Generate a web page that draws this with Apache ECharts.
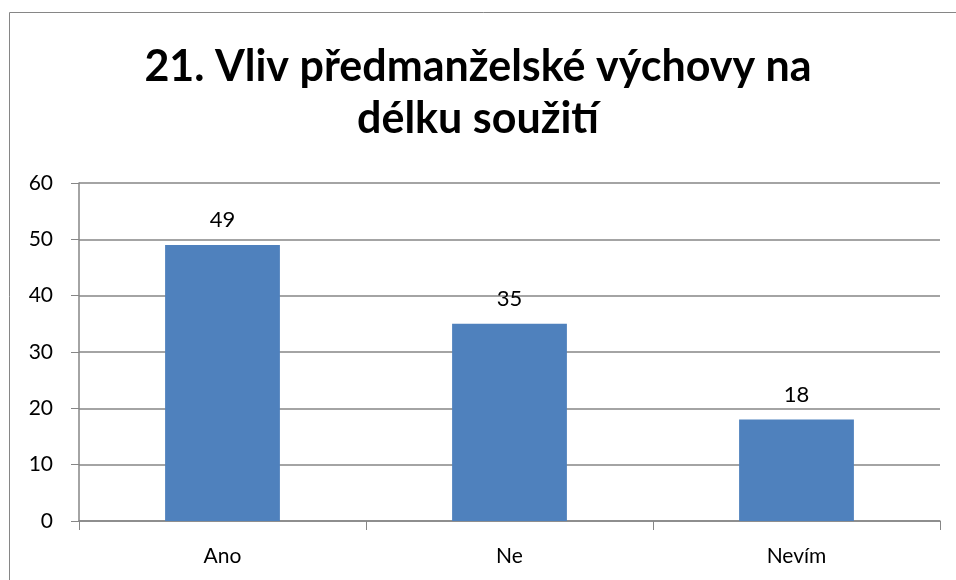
<!DOCTYPE html>
<html>
<head>
<meta charset="utf-8">
<script src="https://cdn.jsdelivr.net/npm/echarts@6/dist/echarts.min.js"></script>
<style>
  html, body { margin: 0; padding: 0; background: #fff; }
  #main { width: 956px; height: 580px; }
</style>
</head>
<body>
<div id="main"></div>
<script>
// data
var categories = ['Ano', 'Ne', 'Nevím'];
var values = [49, 35, 18];
var titleText = '21. Vliv předmanželské výchovy na\ndélku soužití';

var myChart = echarts.init(document.getElementById('main'));
var gray = '#868686';
var font = 'Lato, "Open Sans", sans-serif';

var option = {
    animation: false,
    backgroundColor: '#fff',
    title: {
        text: titleText,
        left: 'center',
        top: 36,
        textStyle: {
            fontFamily: font,
            fontWeight: 'bold',
            fontSize: 43,
            lineHeight: 52,
            color: '#000'
        }
    },
    graphic: [{
        type: 'rect',
        shape: { x: 9.5, y: 12.5, width: 1000, height: 1000 },
        style: { fill: 'none', stroke: gray, lineWidth: 1 }
    }],
    grid: {
        left: 79,
        right: 16,
        top: 183,
        bottom: 59
    },
    xAxis: {
        type: 'category',
        data: categories,
        axisLine: { lineStyle: { color: gray, width: 1.5 } },
        axisTick: { show: true, interval: 0, length: 9, lineStyle: { color: gray } },
        axisLabel: { fontFamily: font, fontSize: 21, color: '#000', margin: 25 }
    },
    yAxis: {
        type: 'value',
        min: 0,
        max: 60,
        interval: 10,
        axisLine: { show: true, lineStyle: { color: gray, width: 1.5 } },
        axisTick: { show: true, length: 8, lineStyle: { color: gray } },
        splitLine: { lineStyle: { color: gray, width: 1.5 } },
        axisLabel: { fontFamily: font, fontSize: 21, color: '#000', margin: 26 }
    },
    series: [{
        type: 'bar',
        data: values,
        barWidth: '40%',
        itemStyle: { color: '#4F81BD' },
        label: {
            show: true,
            position: 'top',
            distance: 14,
            fontFamily: font,
            fontSize: 22,
            color: '#000'
        }
    }]
};

myChart.setOption(option);
</script>
</body>
</html>
